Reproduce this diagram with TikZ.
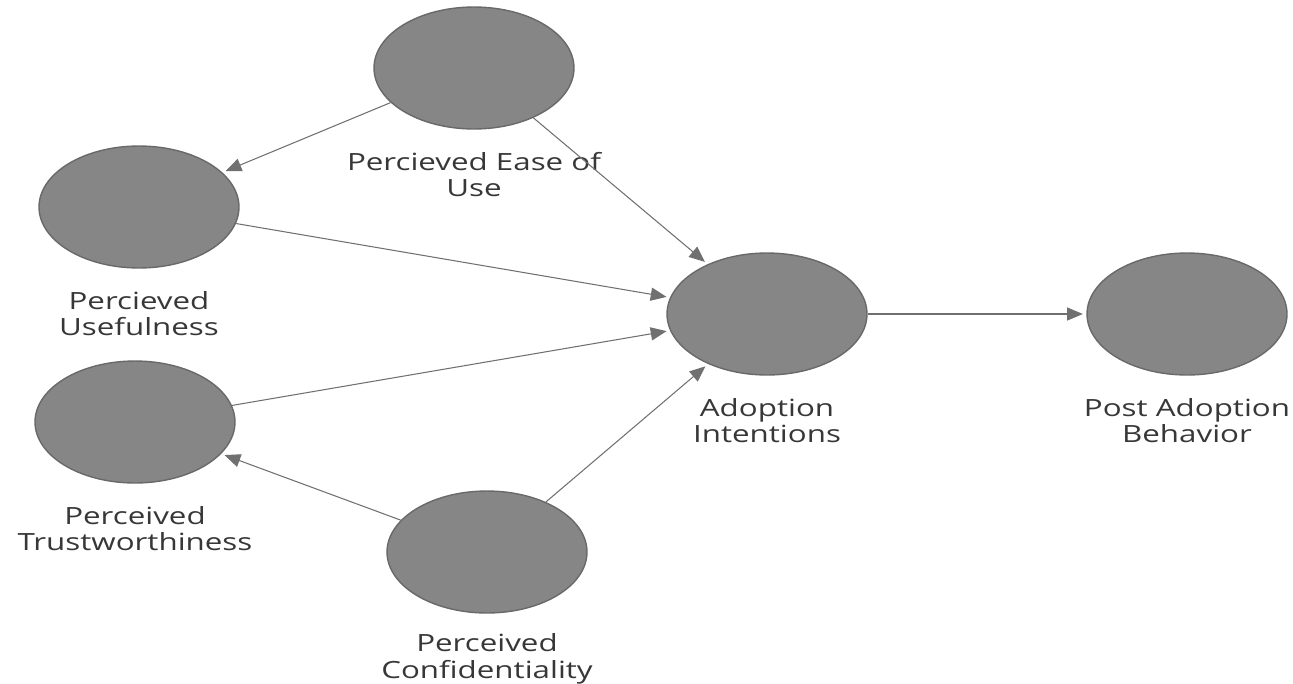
\documentclass[tikz,border=0pt]{standalone}
\usepackage{fontspec}
\setmainfont{Open Sans}[FakeStretch=1.32]
\usepackage{xcolor}
\usepackage{tikz}
\usetikzlibrary{shapes.geometric,arrows.meta}
\definecolor{bubble}{RGB}{134,134,134}
\definecolor{bubbleline}{RGB}{105,105,105}
\definecolor{linkgray}{RGB}{112,112,112}
\definecolor{textgray}{RGB}{55,55,55}
\tikzstyle{construct} = [ellipse, minimum width=4cm, minimum height=2.44cm, draw=bubbleline, line width=0.8pt, fill=bubble]
\tikzstyle{caption} = [align=center, text=textgray, font=\fontsize{13.5}{15.2}\selectfont, inner sep=0pt]
\tikzstyle{arrow} = [linkgray, line width=0.6pt, -{Triangle[length=9pt,width=7.5pt]}, shorten >=2pt]

\begin{document}
\begin{tikzpicture}[x=0.02cm, y=-0.02cm, node distance = 2.13cm]
	\useasboundingbox (0,0) rectangle (1293,683);

	\node (ease) [construct] at (474,68) {};
	\node (useful) [construct] at (139,207) {};
	\node (adopt) [construct] at (767,314) {};
	\node (post) [construct] at (1187,314) {};
	\node (trust) [construct] at (135,422) {};
	\node (confid) [construct] at (487,552) {};

	\node (easetxt) [caption,below of=ease] {Percieved Ease of\\Use};
	\node (usefultxt) [caption,below of=useful] {Percieved\\Usefulness};
	\node (adopttxt) [caption,below of=adopt] {Adoption\\Intentions};
	\node (posttxt) [caption,below of=post] {Post Adoption\\Behavior};
	\node (trusttxt) [caption,below of=trust] {Perceived\\Trustworthiness};
	\node (confidtxt) [caption,below of=confid] {Perceived\\Confidentiality};

	\draw [arrow] (ease) -- (useful);
	\draw [arrow] (ease) -- (adopt);
	\draw [arrow] (useful) -- (adopt);
	\draw [arrow] (trust) -- (adopt);
	\draw [arrow] (confid) -- (adopt);
	\draw [arrow] (confid) -- (trust);
	\draw [arrow] (adopt) -- (post);

\end{tikzpicture}
\end{document}
